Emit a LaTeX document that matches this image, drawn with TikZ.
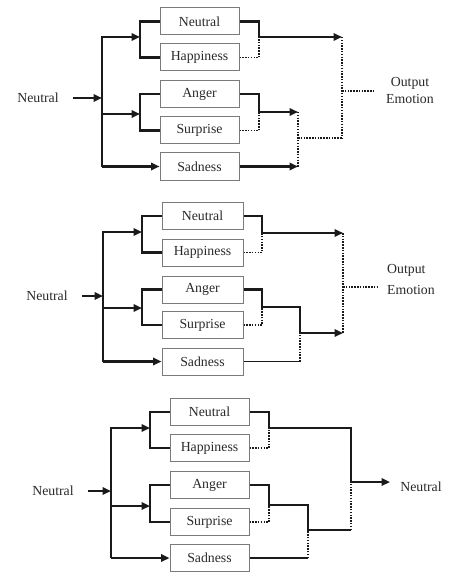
\documentclass[tikz,border=0pt]{standalone}
\usepackage{fontspec}
\setmainfont{Liberation Serif}
\usetikzlibrary{arrows.meta}
\definecolor{boxgray}{HTML}{7A7A7A}
\definecolor{ink}{HTML}{1A1A1A}
\definecolor{txt}{HTML}{2A2A2A}
\begin{document}
\begin{tikzpicture}[x=1pt,y=-1pt,
  emo/.style={draw=boxgray,line width=1pt,fill=white,minimum width=79pt,minimum height=27pt,inner sep=0pt,text=txt,font=\fontsize{13.8}{16}\selectfont},
  lbl/.style={inner sep=0pt,text=txt,font=\fontsize{13.8}{16}\selectfont},
  sol/.style={draw=ink,line width=2.2pt},
  thin/.style={draw=ink,line width=1.7pt},
  dotl/.style={draw=ink,line width=1.7pt,dash pattern=on 1.5pt off 1.3pt},
  arr/.style={-{Triangle[length=8.5pt,width=7.5pt]}},
]
\useasboundingbox[fill=white] (0,0) rectangle (456,588);

% ================= Panel 1 =================
\node[lbl] (in1) at (38,98) {Neutral};
\coordinate (t1) at (102,98);
\coordinate (t1a) at (102,37);
\coordinate (t1c) at (102,166.5);
\coordinate (t1b) at (102,114);
\coordinate (b1a) at (140,37);
\coordinate (b1b) at (140,114);
\node[emo] (n1) at (199.5,21.5) {Neutral};
\node[emo] (h1) at (199.5,57.5) {Happiness};
\node[emo] (a1) at (199.5,94) {Anger};
\node[emo] (u1) at (199.5,130.5) {Surprise};
\node[emo] (s1) at (199.5,166.5) {Sadness};
\draw[sol,arr] ([xshift=14pt]in1.east) -- (t1);
\draw[sol,arr] (t1c) -- (t1a) -- (b1a);
\draw[sol,arr] (t1c) -- (s1.west);
\draw[sol,arr] (t1b) -- (b1b);
\draw[sol] (n1.west) -| (b1a) |- (h1.west);
\draw[sol] (a1.west) -| (b1b) |- (u1.west);
\coordinate (r1a) at (259,37);
\coordinate (o1a) at (342,37);
\coordinate (r1b) at (259,112);
\coordinate (m1) at (298,112);
\coordinate (m1s) at (298,166.5);
\coordinate (m1j) at (298,138);
\coordinate (o1b) at (342,138);
\coordinate (o1m) at (342,91);
\coordinate (e1) at (375,91);
\draw[sol,arr] (n1.east) -| (r1a) -- (o1a);
\draw[dotl] (h1.east) -| (r1a);
\draw[sol,arr] (a1.east) -| (r1b) -- (m1);
\draw[dotl] (u1.east) -| (r1b);
\draw[sol,arr] (s1.east) -- (m1s);
\draw[dotl] (m1) -- (m1s);
\draw[dotl] (m1j) -- (o1b);
\draw[dotl] (o1a) -- (o1b);
\draw[dotl] (o1m) -- (e1);
\node[lbl,align=center,font=\fontsize{13.8}{17}\selectfont] (out1) at (410,90.5) {Output\\Emotion};

% ================= Panel 2 =================
\node[lbl] (in2) at (47,296) {Neutral};
\coordinate (t2) at (103,296);
\coordinate (t2a) at (103,232);
\coordinate (t2b) at (103,308);
\coordinate (t2c) at (103,361.5);
\coordinate (b2a) at (142,232);
\coordinate (b2b) at (142,308);
\node[emo,minimum width=81pt] (n2) at (202.5,216) {Neutral};
\node[emo,minimum width=81pt] (h2) at (202.5,252.5) {Happiness};
\node[emo,minimum width=81pt] (a2) at (202.5,289.5) {Anger};
\node[emo,minimum width=81pt] (u2) at (202.5,325) {Surprise};
\node[emo,minimum width=81pt] (s2) at (202.5,361.5) {Sadness};
\draw[sol,arr] ([xshift=14pt]in2.east) -- (t2);
\draw[sol,arr] (t2c) -- (t2a) -- (b2a);
\draw[sol,arr] (t2c) -- (s2.west);
\draw[sol,arr] (t2b) -- (b2b);
\draw[sol] (n2.west) -| (b2a) |- (h2.west);
\draw[sol] (a2.west) -| (b2b) |- (u2.west);
\coordinate (r2a) at (262,233);
\coordinate (o2a) at (343,233);
\coordinate (r2b) at (262,307);
\coordinate (m2) at (300,307);
\coordinate (m2j) at (300,333);
\coordinate (o2b) at (343,333);
\coordinate (m2s) at (300,361.5);
\coordinate (o2m) at (343,287);
\coordinate (e2) at (377,287);
\draw[sol,arr] (n2.east) -| (r2a) -- (o2a);
\draw[dotl] (h2.east) -| (r2a);
\draw[sol,arr] (a2.east) -| (r2b) -- (m2) -- (m2j) -- (o2b);
\draw[dotl] (u2.east) -| (r2b);
\draw[thin] (s2.east) -- (m2s);
\draw[dotl] (m2s) -- (m2j);
\draw[dotl] (o2a) -- (o2b);
\draw[dotl] (o2m) -- (e2);
\node[lbl,align=left,anchor=west,font=\fontsize{13.8}{21}\selectfont] (out2) at (387,279.5) {Output\\Emotion};

% ================= Panel 3 =================
\node[lbl] (in3) at (53,491) {Neutral};
\coordinate (t3) at (111,491);
\coordinate (t3a) at (111,428);
\coordinate (t3b) at (111,506);
\coordinate (t3c) at (111,558);
\coordinate (b3a) at (150,428);
\coordinate (b3b) at (150,506);
\node[emo] (n3) at (209.5,412) {Neutral};
\node[emo] (h3) at (209.5,448) {Happiness};
\node[emo] (a3) at (209.5,485) {Anger};
\node[emo] (u3) at (209.5,522) {Surprise};
\node[emo] (s3) at (209.5,558) {Sadness};
\draw[sol,arr] ([xshift=14pt]in3.east) -- (t3);
\draw[sol,arr] (t3c) -- (t3a) -- (b3a);
\draw[sol,arr] (t3c) -- (s3.west);
\draw[sol,arr] (t3b) -- (b3b);
\draw[sol] (n3.west) -| (b3a) |- (h3.west);
\draw[sol] (a3.west) -| (b3b) |- (u3.west);
\coordinate (r3a) at (269,428);
\coordinate (o3a) at (351,428);
\coordinate (o3m) at (351,482);
\coordinate (o3b) at (351,530);
\coordinate (r3b) at (269,505);
\coordinate (m3) at (308,505);
\coordinate (m3j) at (308,530);
\coordinate (m3s) at (308,558);
\node[lbl] (out3) at (421,487) {Neutral};
\coordinate (e3) at (390,482);
\draw[thin] (n3.east) -| (r3a) -- (o3a) -- (o3m);
\draw[dotl] (h3.east) -| (r3a);
\draw[thin] (a3.east) -| (r3b) -- (m3) -- (m3j) -- (o3b);
\draw[dotl] (u3.east) -| (r3b);
\draw[thin] (s3.east) -- (m3s);
\draw[dotl] (m3s) -- (m3j);
\draw[dotl] (o3b) -- (o3m);
\draw[sol,arr] (o3m) -- (e3);
\end{tikzpicture}
\end{document}
